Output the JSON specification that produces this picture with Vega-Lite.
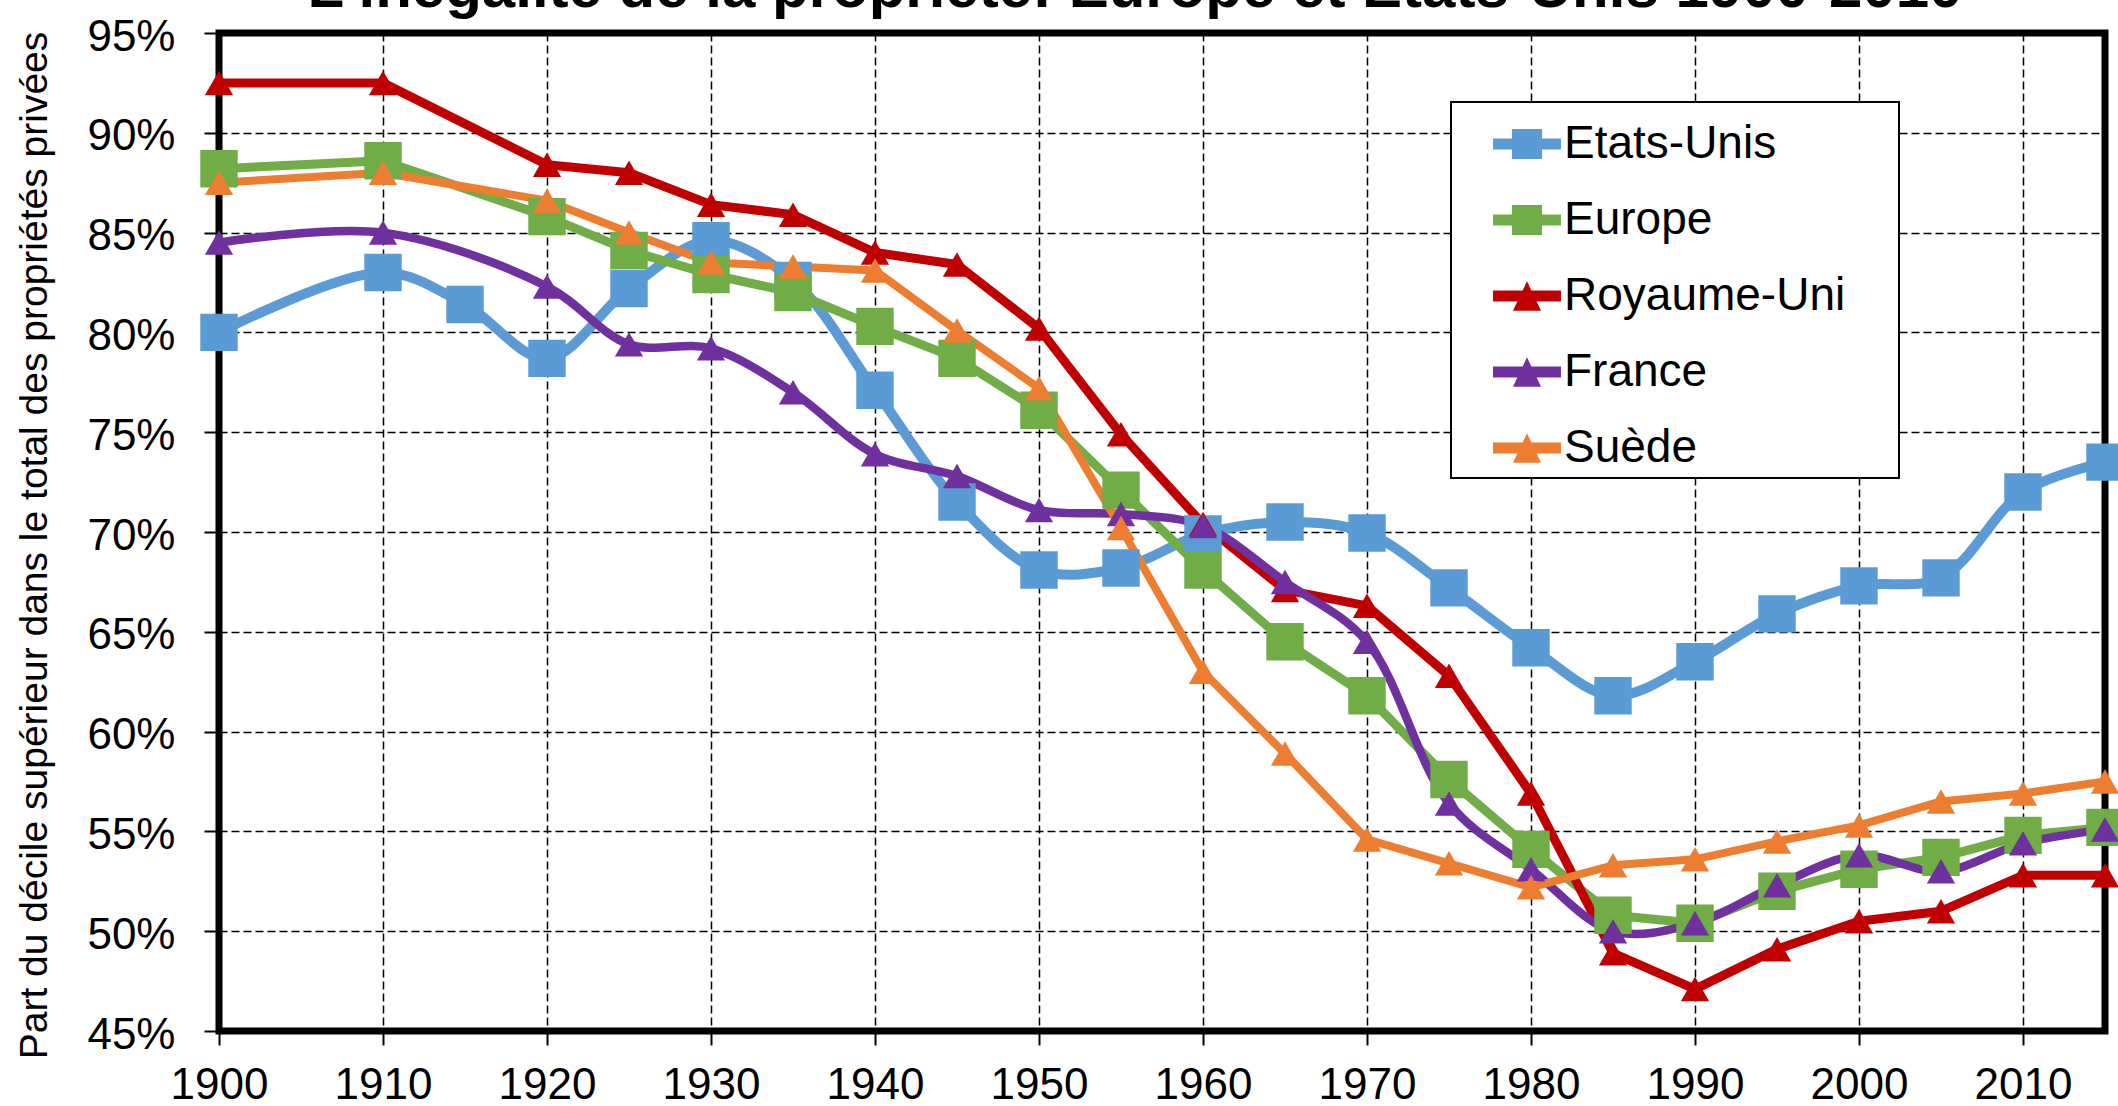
{
  "$schema": "https://vega.github.io/schema/vega-lite/v6.json",
  "width": 1886,
  "height": 998,
  "autosize": {"type": "none"},
  "padding": {"left": 219, "top": 33, "right": 13, "bottom": 75},
  "background": "white",
  "title": {
    "text": "L'inégalité de la propriété: Europe et Etats-Unis 1900-2010",
    "font": "Liberation Sans",
    "fontSize": 60,
    "fontWeight": "bold",
    "color": "black",
    "anchor": "middle",
    "frame": "group",
    "baseline": "alphabetic",
    "offset": 0,
    "dx": -27,
    "dy": 52
  },
  "config": {
    "view": {"stroke": "black", "strokeWidth": 7},
    "axis": {
      "domain": false,
      "grid": true,
      "gridColor": "black",
      "gridDash": [8, 4],
      "gridWidth": 1.5,
      "gridOpacity": 1,
      "tickColor": "black",
      "tickWidth": 2,
      "labelFont": "Liberation Sans",
      "labelColor": "black",
      "titleFont": "Liberation Sans",
      "titleColor": "black"
    }
  },
  "data": {
    "values": [
      {"serie": "Etats-Unis", "annee": 1900, "part": 80.0},
      {"serie": "Etats-Unis", "annee": 1910, "part": 83.0},
      {"serie": "Etats-Unis", "annee": 1915, "part": 81.4},
      {"serie": "Etats-Unis", "annee": 1920, "part": 78.7},
      {"serie": "Etats-Unis", "annee": 1925, "part": 82.2},
      {"serie": "Etats-Unis", "annee": 1930, "part": 84.6},
      {"serie": "Etats-Unis", "annee": 1935, "part": 82.6},
      {"serie": "Etats-Unis", "annee": 1940, "part": 77.1},
      {"serie": "Etats-Unis", "annee": 1945, "part": 71.5},
      {"serie": "Etats-Unis", "annee": 1950, "part": 68.1},
      {"serie": "Etats-Unis", "annee": 1955, "part": 68.2},
      {"serie": "Etats-Unis", "annee": 1960, "part": 69.9},
      {"serie": "Etats-Unis", "annee": 1965, "part": 70.5},
      {"serie": "Etats-Unis", "annee": 1970, "part": 69.95},
      {"serie": "Etats-Unis", "annee": 1975, "part": 67.2},
      {"serie": "Etats-Unis", "annee": 1980, "part": 64.2},
      {"serie": "Etats-Unis", "annee": 1985, "part": 61.8},
      {"serie": "Etats-Unis", "annee": 1990, "part": 63.5},
      {"serie": "Etats-Unis", "annee": 1995, "part": 65.9},
      {"serie": "Etats-Unis", "annee": 2000, "part": 67.3},
      {"serie": "Etats-Unis", "annee": 2005, "part": 67.7},
      {"serie": "Etats-Unis", "annee": 2010, "part": 72.0},
      {"serie": "Etats-Unis", "annee": 2015, "part": 73.5},
      {"serie": "Europe", "annee": 1900, "part": 88.2},
      {"serie": "Europe", "annee": 1910, "part": 88.6},
      {"serie": "Europe", "annee": 1920, "part": 85.8},
      {"serie": "Europe", "annee": 1925, "part": 84.1},
      {"serie": "Europe", "annee": 1930, "part": 82.9},
      {"serie": "Europe", "annee": 1935, "part": 82.0},
      {"serie": "Europe", "annee": 1940, "part": 80.3},
      {"serie": "Europe", "annee": 1945, "part": 78.7},
      {"serie": "Europe", "annee": 1950, "part": 76.1},
      {"serie": "Europe", "annee": 1955, "part": 72.1},
      {"serie": "Europe", "annee": 1960, "part": 68.1},
      {"serie": "Europe", "annee": 1965, "part": 64.5},
      {"serie": "Europe", "annee": 1970, "part": 61.8},
      {"serie": "Europe", "annee": 1975, "part": 57.6},
      {"serie": "Europe", "annee": 1980, "part": 54.1},
      {"serie": "Europe", "annee": 1985, "part": 50.8},
      {"serie": "Europe", "annee": 1990, "part": 50.4},
      {"serie": "Europe", "annee": 1995, "part": 52.0},
      {"serie": "Europe", "annee": 2000, "part": 53.1},
      {"serie": "Europe", "annee": 2005, "part": 53.7},
      {"serie": "Europe", "annee": 2010, "part": 54.8},
      {"serie": "Europe", "annee": 2015, "part": 55.2},
      {"serie": "Royaume-Uni", "annee": 1900, "part": 92.5},
      {"serie": "Royaume-Uni", "annee": 1910, "part": 92.5},
      {"serie": "Royaume-Uni", "annee": 1920, "part": 88.4},
      {"serie": "Royaume-Uni", "annee": 1925, "part": 88.0},
      {"serie": "Royaume-Uni", "annee": 1930, "part": 86.4},
      {"serie": "Royaume-Uni", "annee": 1935, "part": 85.9},
      {"serie": "Royaume-Uni", "annee": 1940, "part": 84.0},
      {"serie": "Royaume-Uni", "annee": 1945, "part": 83.4},
      {"serie": "Royaume-Uni", "annee": 1950, "part": 80.2},
      {"serie": "Royaume-Uni", "annee": 1955, "part": 74.9},
      {"serie": "Royaume-Uni", "annee": 1960, "part": 70.4},
      {"serie": "Royaume-Uni", "annee": 1965, "part": 67.1},
      {"serie": "Royaume-Uni", "annee": 1970, "part": 66.3},
      {"serie": "Royaume-Uni", "annee": 1975, "part": 62.8},
      {"serie": "Royaume-Uni", "annee": 1980, "part": 56.9},
      {"serie": "Royaume-Uni", "annee": 1985, "part": 48.9},
      {"serie": "Royaume-Uni", "annee": 1990, "part": 47.1},
      {"serie": "Royaume-Uni", "annee": 1995, "part": 49.1},
      {"serie": "Royaume-Uni", "annee": 2000, "part": 50.5},
      {"serie": "Royaume-Uni", "annee": 2005, "part": 51.0},
      {"serie": "Royaume-Uni", "annee": 2010, "part": 52.8},
      {"serie": "Royaume-Uni", "annee": 2015, "part": 52.8},
      {"serie": "France", "annee": 1900, "part": 84.5},
      {"serie": "France", "annee": 1910, "part": 85.0},
      {"serie": "France", "annee": 1920, "part": 82.3},
      {"serie": "France", "annee": 1925, "part": 79.4},
      {"serie": "France", "annee": 1930, "part": 79.2},
      {"serie": "France", "annee": 1935, "part": 77.0},
      {"serie": "France", "annee": 1940, "part": 73.9},
      {"serie": "France", "annee": 1945, "part": 72.8},
      {"serie": "France", "annee": 1950, "part": 71.1},
      {"serie": "France", "annee": 1955, "part": 70.9},
      {"serie": "France", "annee": 1960, "part": 70.3},
      {"serie": "France", "annee": 1965, "part": 67.5},
      {"serie": "France", "annee": 1970, "part": 64.5},
      {"serie": "France", "annee": 1975, "part": 56.4},
      {"serie": "France", "annee": 1980, "part": 53.1},
      {"serie": "France", "annee": 1985, "part": 50.0},
      {"serie": "France", "annee": 1990, "part": 50.4},
      {"serie": "France", "annee": 1995, "part": 52.3},
      {"serie": "France", "annee": 2000, "part": 53.8},
      {"serie": "France", "annee": 2005, "part": 53.0},
      {"serie": "France", "annee": 2010, "part": 54.4},
      {"serie": "France", "annee": 2015, "part": 55.1},
      {"serie": "Suède", "annee": 1900, "part": 87.5},
      {"serie": "Suède", "annee": 1910, "part": 88.0},
      {"serie": "Suède", "annee": 1920, "part": 86.6},
      {"serie": "Suède", "annee": 1925, "part": 85.0},
      {"serie": "Suède", "annee": 1930, "part": 83.5},
      {"serie": "Suède", "annee": 1935, "part": 83.3},
      {"serie": "Suède", "annee": 1940, "part": 83.1},
      {"serie": "Suède", "annee": 1945, "part": 80.1},
      {"serie": "Suède", "annee": 1950, "part": 77.2},
      {"serie": "Suède", "annee": 1955, "part": 70.2},
      {"serie": "Suède", "annee": 1960, "part": 63.0},
      {"serie": "Suède", "annee": 1965, "part": 58.9},
      {"serie": "Suède", "annee": 1970, "part": 54.6},
      {"serie": "Suède", "annee": 1975, "part": 53.4},
      {"serie": "Suède", "annee": 1980, "part": 52.2},
      {"serie": "Suède", "annee": 1985, "part": 53.3},
      {"serie": "Suède", "annee": 1990, "part": 53.6},
      {"serie": "Suède", "annee": 1995, "part": 54.5},
      {"serie": "Suède", "annee": 2000, "part": 55.3},
      {"serie": "Suède", "annee": 2005, "part": 56.5},
      {"serie": "Suède", "annee": 2010, "part": 56.9},
      {"serie": "Suède", "annee": 2015, "part": 57.5}
    ]
  },
  "encoding": {
    "x": {
      "field": "annee",
      "type": "quantitative",
      "scale": {"domain": [1900, 2015], "nice": false, "zero": false},
      "axis": {
        "title": null,
        "values": [1900, 1910, 1920, 1930, 1940, 1950, 1960, 1970, 1980, 1990, 2000, 2010],
        "format": "d",
        "labelFontSize": 44,
        "tickSize": 14,
        "labelPadding": 18,
        "labelFlush": false,
        "labelOverlap": false
      }
    },
    "y": {
      "field": "part",
      "type": "quantitative",
      "scale": {"domain": [45, 95], "nice": false, "zero": false},
      "axis": {
        "title": "Part du décile supérieur dans le total des propriétés privées",
        "values": [45, 50, 55, 60, 65, 70, 75, 80, 85, 90, 95],
        "labelExpr": "datum.value + '%'",
        "labelFontSize": 44,
        "tickSize": 15,
        "labelPadding": 29,
        "labelOffset": 4,
        "labelFlush": false,
        "labelOverlap": false,
        "titleFontSize": 39,
        "titleFontWeight": "normal",
        "titleAngle": -90,
        "titleX": -173,
        "titleY": 512,
        "titleAlign": "center",
        "titleBaseline": "alphabetic"
      }
    },
    "color": {
      "field": "serie",
      "type": "nominal",
      "scale": {
        "domain": ["Etats-Unis", "Europe", "Royaume-Uni", "France", "Suède"],
        "range": ["#5B9BD5", "#70AD47", "#C00000", "#7030A0", "#ED7D31"]
      },
      "legend": {
        "title": null,
        "orient": "none",
        "legendX": 1232,
        "legendY": 69,
        "padding": 7,
        "strokeColor": "black",
        "fillColor": "white",
        "symbolSize": 4900,
        "symbolOffset": 34,
        "labelOffset": 2,
        "rowPadding": 18,
        "labelFont": "Liberation Sans",
        "labelFontSize": 46,
        "labelColor": "black",
        "labelLimit": 0,
        "labelExpr": "datum.label + '\u00a0\u2800'",
        "encode": {
          "legend": {
            "update": {
              "strokeWidth": {"value": 2}
            }
          },
          "symbols": {
            "update": {
              "shape": {"signal": "indexof(['Etats-Unis','Europe'], datum.value) >= 0 ? 'M-0.97,-0.16H-0.43V-0.43H0.43V-0.16H0.97V0.16H0.43V0.43H-0.43V0.16H-0.97Z' : 'M-0.97,-0.16L-0.124,-0.16L0,-0.42L0.124,-0.16L0.97,-0.16L0.97,0.16L0.276,0.16L0.4,0.42L-0.4,0.42L-0.276,0.16L-0.97,0.16Z'"},
              "fill": {"scale": "color", "field": "value"},
              "fillOpacity": {"value": 1},
              "opacity": {"value": 1},
              "strokeWidth": {"value": 0}
            }
          }
        }
      }
    }
  },
  "layer": [
    {
      "transform": [{"filter": "datum.serie === 'Etats-Unis'"}],
      "mark": {"type": "line", "strokeWidth": 10, "interpolate": "catmull-rom", "strokeJoin": "round", "strokeCap": "round"}
    },
    {
      "transform": [{"filter": "datum.serie === 'Europe' || datum.serie === 'Royaume-Uni'"}],
      "mark": {"type": "line", "strokeWidth": 9, "strokeJoin": "round", "strokeCap": "round"}
    },
    {
      "transform": [{"filter": "datum.serie === 'France'"}],
      "mark": {"type": "line", "strokeWidth": 8.5, "interpolate": "catmull-rom", "strokeJoin": "round", "strokeCap": "round"}
    },
    {
      "transform": [{"filter": "datum.serie === 'Suède'"}],
      "mark": {"type": "line", "strokeWidth": 8, "strokeJoin": "round", "strokeCap": "round"}
    },
    {
      "transform": [{"filter": "datum.serie === 'Etats-Unis' || datum.serie === 'Europe'"}],
      "mark": {"type": "point", "shape": "square", "filled": true, "size": 1400, "opacity": 1, "strokeWidth": 0}
    },
    {
      "transform": [{"filter": "datum.serie !== 'Etats-Unis' && datum.serie !== 'Europe'"}],
      "mark": {"type": "point", "shape": "triangle-up", "filled": true, "size": 800, "opacity": 1, "strokeWidth": 0}
    }
  ]
}
